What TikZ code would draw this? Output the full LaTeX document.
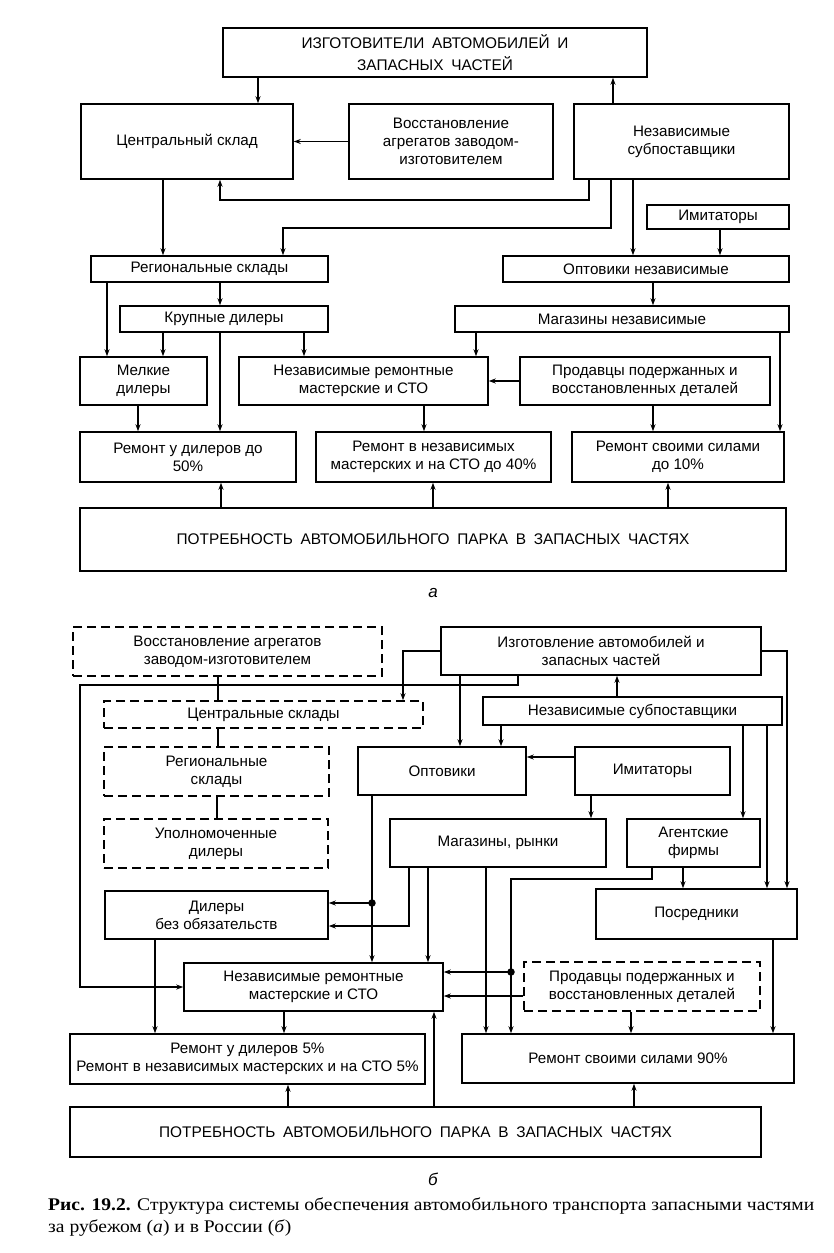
\documentclass[tikz,border=0pt]{standalone}
\usepackage{fontspec}
\setmainfont{Liberation Sans}
\newfontfamily\upfont{Liberation Sans}[WordSpace=1.8]
\newfontfamily\capfont{Liberation Serif}[FakeStretch=1.1]
\usetikzlibrary{arrows.meta}
\begin{document}
\begin{tikzpicture}[x=1pt,y=-1pt,
  box/.style={draw,line width=1.5pt,align=center,inner sep=0pt,font=\fontsize{15.2}{18}\selectfont},
  dbox/.style={box,dash pattern=on 9pt off 5pt},
  upbox/.style={box,font=\upfont\fontsize{15.4}{22}\selectfont},
  arr/.style={line width=1.4pt,-{Stealth[length=7pt,width=5pt]}},
  ln/.style={line width=1.4pt},
  dotn/.style={circle,fill,inner sep=0pt,minimum size=7.5pt}]
\fill[white] (0,0) rectangle (834,1253);
\useasboundingbox (0,0) rectangle (834,1253);
% ---------------- part a ----------------
\node[upbox,minimum width=424pt,minimum height=49pt] (T) at (435,52.5) {ИЗГОТОВИТЕЛИ АВТОМОБИЛЕЙ И\\ЗАПАСНЫХ ЧАСТЕЙ};
\node[box,minimum width=212pt,minimum height=75pt] (CS) at (187,141.5) {Центральный склад};
\node[box,minimum width=204pt,minimum height=75pt] (VA) at (451,141.5) {Восстановление\\агрегатов заводом-\\изготовителем};
\node[box,minimum width=215pt,minimum height=75pt] (NS) at (681.5,141.5) {Независимые\\субпоставщики};
\node[box,minimum width=142pt,minimum height=24pt] (IM) at (718,217) {Имитаторы};
\node[box,minimum width=237pt,minimum height=26pt] (RS) at (209.5,269) {Региональные склады};
\node[box,minimum width=286pt,minimum height=26pt] (OP) at (646,269) {Оптовики независимые};
\node[box,minimum width=208pt,minimum height=26pt] (KD) at (224,319) {Крупные дилеры};
\node[box,minimum width=334pt,minimum height=26pt] (MN) at (622,319) {Магазины независимые};
\node[box,minimum width=127pt,minimum height=48pt] (ML) at (143.5,381) {Мелкие\\дилеры};
\node[box,minimum width=249pt,minimum height=48pt] (NR) at (363.5,381) {Независимые ремонтные\\мастерские и СТО};
\node[box,minimum width=250pt,minimum height=48pt] (PR) at (645,381) {Продавцы подержанных и\\восстановленных деталей};
\node[box,minimum width=216pt,minimum height=50pt] (RD) at (188,457) {Ремонт у дилеров до\\50\%};
\node[box,minimum width=235pt,minimum height=50pt] (RN) at (433.5,457) {Ремонт в независимых\\мастерских и на СТО до 40\%};
\node[box,minimum width=212pt,minimum height=50pt] (RSS) at (678,457) {Ремонт своими силами\\до 10\%};
\node[upbox,minimum width=706pt,minimum height=63pt] (PA) at (433,539.5) {ПОТРЕБНОСТЬ АВТОМОБИЛЬНОГО ПАРКА В ЗАПАСНЫХ ЧАСТЯХ};
\node[font=\itshape\fontsize{17}{20}\selectfont] (la) at (433,593) {а};
\draw[arr] (T.south -| 258,0) -- (CS.north -| 258,0);
\draw[arr] (NS.north -| 613,0) -- (T.south -| 613,0);
\draw[arr] (VA.west) -- (CS.east);
\draw[arr] (NS.south -| 589,0) -- (589,200) -- (220,200) -- (CS.south -| 220,0);
\draw[arr] (NS.south -| 611,0) -- (611,228) -- (283,228) -- (RS.north -| 283,0);
\draw[arr] (CS.south -| 163,0) -- (RS.north -| 163,0);
\draw[arr] (NS.south -| 633,0) -- (OP.north -| 633,0);
\draw[arr] (IM.south -| 720,0) -- (OP.north -| 720,0);
\draw[arr] (RS.south -| 220,0) -- (KD.north -| 220,0);
\draw[arr] (OP.south -| 653,0) -- (MN.north -| 653,0);
\draw[arr] (RS.south -| 107,0) -- (ML.north -| 107,0);
\draw[arr] (KD.south -| 163,0) -- (ML.north -| 163,0);
\draw[arr] (KD.south -| 220,0) -- (RD.north -| 220,0);
\draw[arr] (KD.south -| 304,0) -- (NR.north -| 304,0);
\draw[arr] (MN.south -| 476,0) -- (NR.north -| 476,0);
\draw[arr] (MN.south -| 780,0) -- (RSS.north -| 780,0);
\draw[arr] (PR.west) -- (NR.east);
\draw[arr] (ML.south -| 138,0) -- (RD.north -| 138,0);
\draw[arr] (NR.south -| 424,0) -- (RN.north -| 424,0);
\draw[arr] (PR.south -| 653,0) -- (RSS.north -| 653,0);
\draw[arr] (PA.north -| 221,0) -- (RD.south -| 221,0);
\draw[arr] (PA.north -| 433,0) -- (RN.south -| 433,0);
\draw[arr] (PA.north -| 668,0) -- (RSS.south -| 668,0);
% ---------------- part b ----------------
\node[box,minimum width=320pt,minimum height=48pt] (IZ) at (601,651) {Изготовление автомобилей и\\запасных частей};
\node[dbox,minimum width=309pt,minimum height=49pt] (VB) at (227.5,651.5) {Восстановление агрегатов\\заводом-изготовителем};
\node[dbox,minimum width=319pt,minimum height=27pt] (CB) at (263.5,714.5) {Центральные склады};
\node[box,minimum width=299pt,minimum height=28pt] (NB) at (632.5,711) {Независимые субпоставщики};
\node[dbox,minimum width=225pt,minimum height=49pt] (RB) at (216.5,771.5) {Региональные\\склады};
\node[box,minimum width=168pt,minimum height=48pt] (OB) at (442,771) {Оптовики};
\node[box,minimum width=155pt,minimum height=48pt] (IB) at (652.5,771) {Имитаторы};
\node[dbox,minimum width=224pt,minimum height=49pt] (UB) at (216,843.5) {Уполномоченные\\дилеры};
\node[box,minimum width=216pt,minimum height=48pt] (MB) at (498,843) {Магазины, рынки};
\node[box,minimum width=133pt,minimum height=48pt] (AB) at (693.5,843) {Агентские\\фирмы};
\node[box,minimum width=223pt,minimum height=48pt] (DB) at (216.5,915) {Дилеры\\без обязательств};
\node[box,minimum width=201pt,minimum height=50pt] (PB) at (696.5,914) {Посредники};
\node[box,minimum width=259pt,minimum height=48pt] (NRB) at (313.5,987) {Независимые ремонтные\\мастерские и СТО};
\node[dbox,minimum width=236pt,minimum height=49pt] (PRB) at (642,986.5) {Продавцы подержанных и\\восстановленных деталей};
\node[box,minimum width=355pt,minimum height=50pt] (RDB) at (247.5,1059) {Ремонт у дилеров 5\%\\Ремонт в независимых мастерских и на СТО 5\%};
\node[box,minimum width=332pt,minimum height=49pt] (RSB) at (628,1058.5) {Ремонт своими силами 90\%};
\node[upbox,minimum width=691pt,minimum height=50pt] (PB2) at (415.5,1132) {ПОТРЕБНОСТЬ АВТОМОБИЛЬНОГО ПАРКА В ЗАПАСНЫХ ЧАСТЯХ};
\node[font=\itshape\fontsize{17}{20}\selectfont] (lb) at (433,1179) {б};
\draw[ln] (VB.south -| 218,0) -- (CB.north -| 218,0);
\draw[ln] (CB.south -| 218,0) -- (RB.north -| 218,0);
\draw[ln] (RB.south -| 217,0) -- (UB.north -| 217,0);
\draw[arr] (IZ.west) -| (CB.north -| 403,0);
\draw[arr] (IZ.south -| 518,0) |- (80,685) |- (NRB.west);
\draw[arr] (NB.north -| 617,0) -- (IZ.south -| 617,0);
\draw[arr] (IZ.south -| 460,0) -- (OB.north -| 460,0);
\draw[arr] (NB.south -| 501,0) -- (OB.north -| 501,0);
\draw[arr] (IB.west |- 0,757) -- (OB.east |- 0,757);
\draw[arr] (IZ.east) -| (PB.north -| 787,0);
\draw[arr] (NB.south -| 743,0) -- (AB.north -| 743,0);
\draw[arr] (NB.south -| 767,0) -- (PB.north -| 767,0);
\draw[arr] (AB.south -| 683,0) -- (PB.north -| 683,0);
\draw[arr] (IB.south -| 591,0) -- (MB.north -| 591,0);
\node[dotn] (d1) at (372,903) {};
\draw[arr] (OB.south -| 372,0) -- (NRB.north -| 372,0);
\draw[arr] (d1.center) -- (DB.east |- d1.center);
\draw[arr] (MB.south -| 409,0) |- (DB.east |- 0,926);
\draw[arr] (MB.south -| 428,0) -- (NRB.north -| 428,0);
\draw[arr] (MB.south -| 486,0) -- (RSB.north -| 486,0);
\node[dotn] (d2) at (511,972) {};
\draw[arr] (AB.south -| 652,0) -- (652,879) -| (RSB.north -| 511,0);
\draw[arr] (d2.center) -- (NRB.east |- d2.center);
\draw[arr] (PRB.west |- 0,996) -- (NRB.east |- 0,996);
\draw[arr] (PRB.south -| 631,0) -- (RSB.north -| 631,0);
\draw[arr] (PB.south -| 773,0) -- (RSB.north -| 773,0);
\draw[arr] (DB.south -| 155,0) -- (RDB.north -| 155,0);
\draw[arr] (NRB.south -| 284,0) -- (RDB.north -| 284,0);
\draw[arr] (PB2.north -| 288,0) -- (RDB.south -| 288,0);
\draw[arr] (PB2.north -| 434,0) -- (NRB.south -| 434,0);
\draw[arr] (PB2.north -| 634,0) -- (RSB.south -| 634,0);
% caption
\node[anchor=base west,inner sep=0pt,font=\capfont\fontsize{17.8}{20}\selectfont] (cap1) at (48,1210) {\textbf{Рис. 19.2.} Структура системы обеспечения автомобильного транспорта запасными частями};
\node[anchor=base west,inner sep=0pt,font=\capfont\fontsize{17.8}{20}\selectfont] (cap2) at (48,1232) {за рубежом (\textit{а}) и в России (\textit{б})};
\end{tikzpicture}
\end{document}
